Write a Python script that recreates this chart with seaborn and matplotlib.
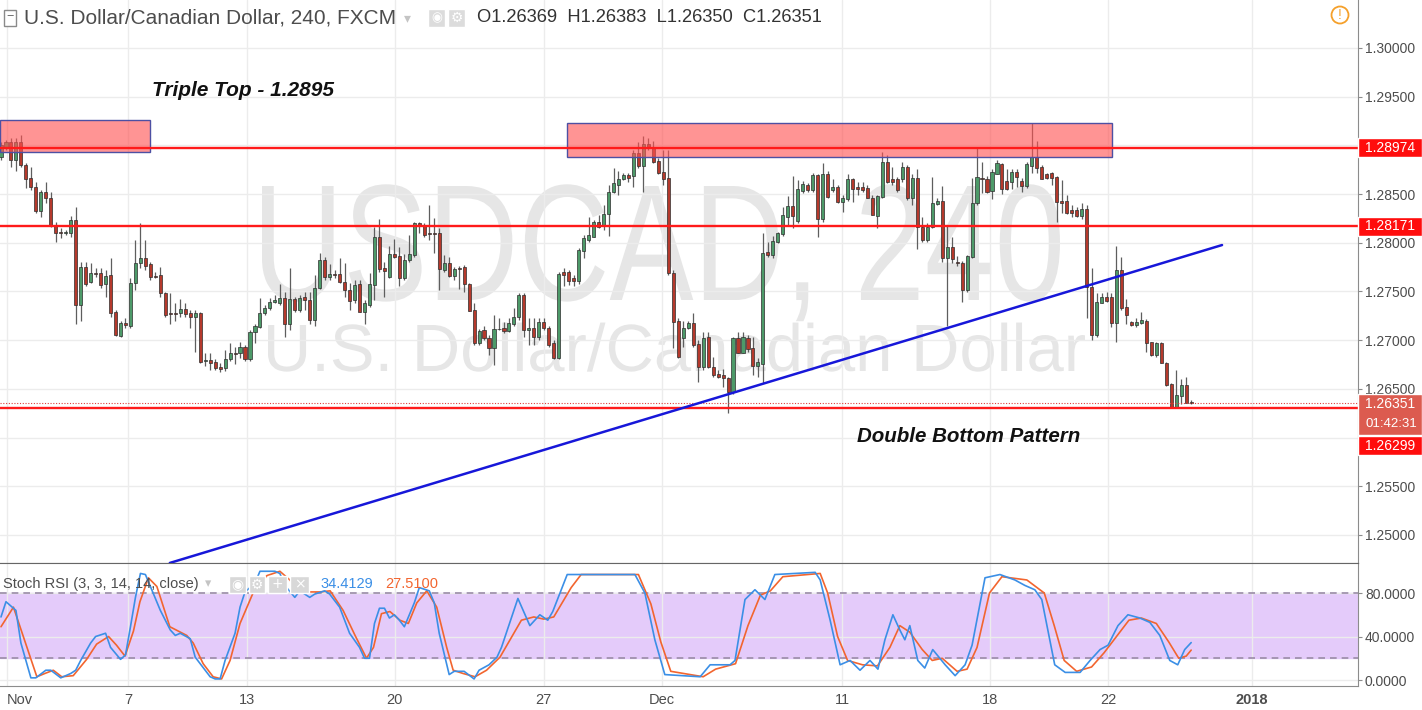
import numpy as np
import pandas as pd
import seaborn as sns
import matplotlib.pyplot as plt
from matplotlib.patches import Rectangle, Ellipse, PathPatch
from matplotlib.textpath import TextPath
from matplotlib.font_manager import FontProperties
from matplotlib.transforms import Affine2D, ScaledTranslation

# USDCAD 4h candles (1 Nov - 26 Dec 2017)
opens = [
    1.2888, 1.2898, 1.2903, 1.2885, 1.2903, 1.2880, 1.2867, 1.2857, 1.2833, 1.2852,
    1.2846, 1.2818, 1.2811, 1.2810, 1.2810, 1.2823, 1.2736, 1.2775, 1.2760, 1.2769,
    1.2769, 1.2758, 1.2767, 1.2729, 1.2704, 1.2718, 1.2715, 1.2759, 1.2779, 1.2784,
    1.2778, 1.2766, 1.2767, 1.2748, 1.2728, 1.2728, 1.2728, 1.2732, 1.2728, 1.2724,
    1.2728, 1.2679, 1.2680, 1.2678, 1.2672, 1.2671, 1.2681, 1.2687, 1.2687, 1.2693,
    1.2681, 1.2708, 1.2714, 1.2728, 1.2733, 1.2739, 1.2738, 1.2743, 1.2717, 1.2742,
    1.2731, 1.2744, 1.2741, 1.2721, 1.2754, 1.2782, 1.2765, 1.2768, 1.2768, 1.2760,
    1.2752, 1.2741, 1.2758, 1.2729, 1.2736, 1.2757, 1.2806, 1.2774, 1.2765, 1.2788,
    1.2786, 1.2764, 1.2782, 1.2787, 1.2820, 1.2817, 1.2810, 1.2810, 1.2810, 1.2772,
    1.2779, 1.2766, 1.2774, 1.2775, 1.2758, 1.2731, 1.2697, 1.2710, 1.2702, 1.2692,
    1.2712, 1.2713, 1.2709, 1.2717, 1.2724, 1.2746, 1.2710, 1.2713, 1.2703, 1.2719,
    1.2713, 1.2697, 1.2682, 1.2770, 1.2770, 1.2764, 1.2761, 1.2792, 1.2803, 1.2806,
    1.2821, 1.2818, 1.2830, 1.2852, 1.2859, 1.2866, 1.2870, 1.2869, 1.2892, 1.2879,
    1.2901, 1.2897, 1.2884, 1.2873, 1.2867, 1.2769, 1.2720, 1.2702, 1.2713, 1.2718,
    1.2696, 1.2672, 1.2703, 1.2672, 1.2665, 1.2664, 1.2661, 1.2647, 1.2702, 1.2687,
    1.2702, 1.2692, 1.2674, 1.2676, 1.2791, 1.2787, 1.2801, 1.2809, 1.2827, 1.2838,
    1.2822, 1.2853, 1.2859, 1.2854, 1.2870, 1.2824, 1.2871, 1.2854, 1.2857, 1.2842,
    1.2845, 1.2866, 1.2857, 1.2857, 1.2856, 1.2846, 1.2828, 1.2847, 1.2883, 1.2866,
    1.2866, 1.2865, 1.2878, 1.2846, 1.2867, 1.2816, 1.2803, 1.2816, 1.2840, 1.2843,
    1.2784, 1.2796, 1.2780, 1.2779, 1.2752, 1.2785, 1.2841, 1.2867, 1.2866, 1.2853,
    1.2871, 1.2881, 1.2863, 1.2862, 1.2873, 1.2863, 1.2858, 1.2879, 1.2888, 1.2878,
    1.2871, 1.2872, 1.2868, 1.2843, 1.2843, 1.2834, 1.2834, 1.2828, 1.2835, 1.2755,
    1.2705, 1.2738, 1.2744, 1.2744, 1.2718, 1.2772, 1.2734, 1.2719, 1.2716, 1.2718,
    1.2720, 1.2698, 1.2685, 1.2697, 1.2677, 1.2655, 1.2631, 1.2643, 1.2654, 1.26369,
]
highs = [
    1.2903, 1.2906, 1.2908, 1.2908, 1.2911, 1.2882, 1.2878, 1.2862, 1.2854, 1.2862,
    1.2852, 1.2821, 1.2815, 1.2813, 1.2828, 1.2837, 1.2780, 1.2780, 1.2779, 1.2774,
    1.2774, 1.2772, 1.2784, 1.2731, 1.2720, 1.2723, 1.2764, 1.2803, 1.2820, 1.2803,
    1.2780, 1.2770, 1.2775, 1.2749, 1.2748, 1.2738, 1.2742, 1.2738, 1.2731, 1.2731,
    1.2729, 1.2687, 1.2687, 1.2681, 1.2677, 1.2690, 1.2697, 1.2693, 1.2698, 1.2695,
    1.2710, 1.2717, 1.2743, 1.2736, 1.2743, 1.2746, 1.2758, 1.2749, 1.2774, 1.2744,
    1.2746, 1.2749, 1.2749, 1.2767, 1.2790, 1.2785, 1.2778, 1.2772, 1.2784, 1.2779,
    1.2759, 1.2762, 1.2762, 1.2741, 1.2769, 1.2816, 1.2824, 1.2780, 1.2797, 1.2804,
    1.2796, 1.2789, 1.2808, 1.2821, 1.2821, 1.2820, 1.2839, 1.2825, 1.2815, 1.2787,
    1.2785, 1.2775, 1.2776, 1.2777, 1.2759, 1.2738, 1.2712, 1.2715, 1.2705, 1.2726,
    1.2723, 1.2719, 1.2723, 1.2733, 1.2748, 1.2748, 1.2723, 1.2723, 1.2723, 1.2723,
    1.2715, 1.2700, 1.2770, 1.2774, 1.2772, 1.2767, 1.2795, 1.2808, 1.2826, 1.2823,
    1.2829, 1.2839, 1.2859, 1.2877, 1.2874, 1.2872, 1.2872, 1.2895, 1.2903, 1.2910,
    1.2908, 1.2905, 1.2887, 1.2895, 1.2895, 1.2772, 1.2723, 1.2720, 1.2720, 1.2728,
    1.2700, 1.2708, 1.2708, 1.2683, 1.2669, 1.2670, 1.2662, 1.2703, 1.2708, 1.2708,
    1.2705, 1.2703, 1.2682, 1.2810, 1.2801, 1.2807, 1.2811, 1.2837, 1.2848, 1.2869,
    1.2864, 1.2863, 1.2861, 1.2872, 1.2871, 1.2882, 1.2874, 1.2866, 1.2859, 1.2849,
    1.2871, 1.2867, 1.2862, 1.2862, 1.2859, 1.2849, 1.2849, 1.2893, 1.2890, 1.2878,
    1.2868, 1.2883, 1.2880, 1.2871, 1.2876, 1.2826, 1.2820, 1.2868, 1.2846, 1.2858,
    1.2817, 1.2806, 1.2786, 1.2781, 1.2787, 1.2867, 1.2898, 1.2883, 1.2869, 1.2876,
    1.2885, 1.2882, 1.2876, 1.2876, 1.2876, 1.2867, 1.2883, 1.2923, 1.2905, 1.2880,
    1.2872, 1.2873, 1.2869, 1.2864, 1.2849, 1.2839, 1.2837, 1.2841, 1.2839, 1.2774,
    1.2748, 1.2748, 1.2749, 1.2748, 1.2797, 1.2785, 1.2742, 1.2720, 1.2723, 1.2729,
    1.2722, 1.2698, 1.2698, 1.2698, 1.2678, 1.2656, 1.2669, 1.2660, 1.2662, 1.26383,
]
lows = [
    1.2885, 1.2895, 1.2878, 1.2874, 1.2878, 1.2856, 1.2854, 1.2831, 1.2826, 1.2841,
    1.2816, 1.2801, 1.2805, 1.2808, 1.2806, 1.2717, 1.2720, 1.2756, 1.2759, 1.2765,
    1.2754, 1.2744, 1.2724, 1.2704, 1.2703, 1.2713, 1.2713, 1.2752, 1.2774, 1.2772,
    1.2762, 1.2764, 1.2744, 1.2724, 1.2717, 1.2720, 1.2724, 1.2724, 1.2713, 1.2688,
    1.2677, 1.2674, 1.2669, 1.2669, 1.2667, 1.2668, 1.2679, 1.2676, 1.2682, 1.2679,
    1.2679, 1.2697, 1.2713, 1.2726, 1.2731, 1.2738, 1.2736, 1.2703, 1.2710, 1.2729,
    1.2729, 1.2731, 1.2717, 1.2715, 1.2753, 1.2762, 1.2762, 1.2764, 1.2759, 1.2744,
    1.2731, 1.2738, 1.2729, 1.2717, 1.2734, 1.2741, 1.2770, 1.2744, 1.2764, 1.2784,
    1.2756, 1.2762, 1.2780, 1.2785, 1.2810, 1.2806, 1.2803, 1.2790, 1.2752, 1.2770,
    1.2765, 1.2762, 1.2753, 1.2749, 1.2730, 1.2695, 1.2695, 1.2700, 1.2685, 1.2675,
    1.2710, 1.2707, 1.2708, 1.2715, 1.2721, 1.2703, 1.2695, 1.2695, 1.2700, 1.2710,
    1.2693, 1.2681, 1.2681, 1.2756, 1.2757, 1.2756, 1.2758, 1.2784, 1.2801, 1.2806,
    1.2815, 1.2813, 1.2807, 1.2851, 1.2849, 1.2864, 1.2862, 1.2857, 1.2877, 1.2852,
    1.2895, 1.2882, 1.2871, 1.2859, 1.2767, 1.2692, 1.2682, 1.2693, 1.2712, 1.2693,
    1.2657, 1.2669, 1.2671, 1.2662, 1.2661, 1.2652, 1.2625, 1.2645, 1.2687, 1.2687,
    1.2688, 1.2664, 1.2662, 1.2656, 1.2785, 1.2784, 1.2800, 1.2807, 1.2818, 1.2815,
    1.2820, 1.2851, 1.2852, 1.2852, 1.2806, 1.2821, 1.2846, 1.2852, 1.2841, 1.2832,
    1.2843, 1.2842, 1.2849, 1.2852, 1.2846, 1.2829, 1.2815, 1.2846, 1.2861, 1.2859,
    1.2852, 1.2862, 1.2844, 1.2839, 1.2794, 1.2801, 1.2801, 1.2815, 1.2839, 1.2780,
    1.2715, 1.2779, 1.2776, 1.2739, 1.2749, 1.2784, 1.2839, 1.2851, 1.2851, 1.2845,
    1.2871, 1.2850, 1.2854, 1.2855, 1.2857, 1.2852, 1.2856, 1.2872, 1.2872, 1.2865,
    1.2866, 1.2859, 1.2821, 1.2831, 1.2830, 1.2826, 1.2827, 1.2824, 1.2723, 1.2700,
    1.2703, 1.2738, 1.2739, 1.2714, 1.2698, 1.2731, 1.2717, 1.2715, 1.2714, 1.2717,
    1.2688, 1.2684, 1.2683, 1.2677, 1.2653, 1.2631, 1.2630, 1.2635, 1.2636, 1.26350,
]
closes = [
    1.2900, 1.2903, 1.2885, 1.2903, 1.2880, 1.2866, 1.2857, 1.2833, 1.2852, 1.2846,
    1.2818, 1.2810, 1.2810, 1.2811, 1.2823, 1.2736, 1.2775, 1.2758, 1.2769, 1.2768,
    1.2757, 1.2766, 1.2728, 1.2705, 1.2718, 1.2716, 1.2759, 1.2779, 1.2784, 1.2776,
    1.2765, 1.2765, 1.2748, 1.2726, 1.2727, 1.2727, 1.2732, 1.2727, 1.2724, 1.2728,
    1.2678, 1.2680, 1.2677, 1.2671, 1.2670, 1.2681, 1.2687, 1.2686, 1.2693, 1.2681,
    1.2708, 1.2715, 1.2728, 1.2733, 1.2739, 1.2741, 1.2743, 1.2717, 1.2742, 1.2731,
    1.2743, 1.2741, 1.2721, 1.2754, 1.2782, 1.2765, 1.2768, 1.2767, 1.2760, 1.2752,
    1.2740, 1.2757, 1.2729, 1.2738, 1.2758, 1.2806, 1.2773, 1.2771, 1.2788, 1.2785,
    1.2764, 1.2782, 1.2788, 1.2820, 1.2817, 1.2808, 1.2809, 1.2809, 1.2773, 1.2779,
    1.2766, 1.2773, 1.2773, 1.2758, 1.2730, 1.2697, 1.2709, 1.2702, 1.2692, 1.2712,
    1.2711, 1.2709, 1.2718, 1.2724, 1.2746, 1.2710, 1.2713, 1.2703, 1.2719, 1.2713,
    1.2695, 1.2682, 1.2768, 1.2767, 1.2761, 1.2761, 1.2793, 1.2805, 1.2808, 1.2821,
    1.2816, 1.2830, 1.2852, 1.2861, 1.2866, 1.2870, 1.2867, 1.2892, 1.2879, 1.2901,
    1.2898, 1.2883, 1.2872, 1.2866, 1.2769, 1.2719, 1.2683, 1.2713, 1.2718, 1.2695,
    1.2672, 1.2702, 1.2672, 1.2664, 1.2662, 1.2661, 1.2647, 1.2702, 1.2687, 1.2703,
    1.2691, 1.2674, 1.2678, 1.2790, 1.2787, 1.2802, 1.2810, 1.2829, 1.2838, 1.2828,
    1.2855, 1.2860, 1.2854, 1.2870, 1.2824, 1.2871, 1.2847, 1.2857, 1.2842, 1.2846,
    1.2866, 1.2855, 1.2855, 1.2854, 1.2846, 1.2829, 1.2848, 1.2883, 1.2862, 1.2862,
    1.2854, 1.2878, 1.2846, 1.2867, 1.2816, 1.2803, 1.2816, 1.2841, 1.2843, 1.2784,
    1.2796, 1.2783, 1.2779, 1.2752, 1.2786, 1.2841, 1.2868, 1.2865, 1.2852, 1.2873,
    1.2882, 1.2855, 1.2855, 1.2873, 1.2868, 1.2858, 1.2881, 1.2888, 1.2877, 1.2866,
    1.2867, 1.2867, 1.2842, 1.2841, 1.2831, 1.2831, 1.2828, 1.2835, 1.2755, 1.2705,
    1.2739, 1.2744, 1.2740, 1.2718, 1.2772, 1.2733, 1.2726, 1.2716, 1.2719, 1.2721,
    1.2697, 1.2685, 1.2697, 1.2677, 1.2654, 1.2631, 1.2644, 1.2654, 1.2636, 1.26351,
]

# Stoch RSI %K (blue) and %D (orange), sampled at candle positions
k_x = [0, 1, 3, 4, 6, 7, 9, 10, 12, 14, 15, 16, 18, 19, 21, 22, 24, 25, 26, 27, 28, 29, 30,
       32, 34, 35, 36, 38, 39, 41, 42, 43, 44, 45, 47, 48, 49, 51, 52, 53, 55, 56, 57, 59, 60,
       62, 63, 65, 66, 68, 70, 72, 73, 74, 75, 76, 77, 78, 79, 80, 81, 83, 84, 86, 87, 88, 90,
       91, 93, 95, 96, 98, 99.6, 100.5, 103.8, 106.2, 108.2, 109.8, 110.8, 113.7, 120.3, 127.3,
       129.3, 131.3, 133.3, 140.4, 142.4, 146.4, 147.4, 149.4, 151.4, 153.4, 155.4, 163.5,
       164.5, 166.5, 168.5, 170.5, 172.5, 174.5, 176.1, 177.5, 179.1, 180.5, 181.5, 182.5,
       184.1, 185.5, 187.1, 189.6, 191.6, 193.6, 195, 197.6, 200.6, 203.6, 205.6, 207.6, 209,
       210.6, 211.6, 213.7, 216.7, 218.7, 220.7, 222.3, 224.3, 226.3, 228.7, 230.7, 232.7,
       234.7, 236.3, 237.7, 239]
k_y = [58, 72, 64, 34, 2, 2, 9, 9, 2, 6, 9, 18, 34, 40, 43, 30, 19, 23, 49, 76, 98, 97, 86,
       64, 46, 41, 43, 38, 21, 9, 3, 1, 1, 18, 43, 67, 81, 89, 100, 100, 100, 98, 87, 76, 82,
       76, 79, 82, 79, 67, 43, 30, 20, 20, 52, 66, 66, 57, 60, 55, 49, 71, 85, 82, 71, 43, 5,
       8, 8, 1, 9, 14, 21, 30, 75, 50, 60, 55, 63, 97, 97, 97,
       80, 37, 5, 3, 14, 14, 18, 74, 83, 74, 97, 99,
       92, 55, 14, 18, 9, 18, 10, 37, 60, 46, 37, 50,
       18, 11, 28, 14, 4, 14, 32, 94, 97, 92, 87, 83, 74,
       37, 14, 7, 7, 18, 28, 32, 50, 60, 57, 53, 41,
       18, 14, 28, 34.4129]
d_x = [0, 2.5, 7.2, 8.8, 10.5, 12.2, 14.5, 17.2, 19.2, 21.6, 23.2, 24.9, 26.6, 27.9, 29.6,
       31.3, 33.9, 37.3, 38.6, 40.6, 42.6, 44.3, 46, 48, 50.7, 53.4, 56, 58, 60, 62, 64.1,
       66.1, 68.7, 71.1, 73.4, 74.8, 76.4, 78.1, 80.1, 81.8, 83.5, 85.5, 87.5, 89.5, 90.8,
       92.8, 95.2, 97.5, 100.2, 104.5, 107, 109, 111, 114.5, 116.5, 128, 130.5, 132.5, 134.5,
       141, 143.5, 147.5, 150, 152.5, 154.5, 157, 164.5, 166, 168, 170, 173, 176, 178.5,
       180.5, 182.5, 185, 187, 189, 192, 194, 196, 198.5, 201, 206, 209.5, 211.5, 213.5, 216,
       219, 221.5, 224, 226.5, 229, 232, 234.5, 236.5, 238, 239]
d_y = [49, 67, 3, 6, 9, 3, 4, 19, 33, 40, 32, 22, 45, 72, 94,
       86, 49, 41, 34, 15, 3, 1, 18, 52, 81, 96, 100, 92, 81, 81, 81,
       82, 64, 41, 20, 30, 61, 63, 55, 52, 71, 82, 67, 30, 9,
       6, 3, 9, 21, 55, 58, 56, 58, 85, 97, 97, 70, 35, 8,
       3, 10, 15, 50, 78, 82, 95, 98, 80, 40, 18, 14, 13, 30,
       50, 44, 28, 18, 20, 8, 10, 30, 80, 95, 92, 80, 50, 18, 8,
       12, 25, 40, 55, 57, 52, 35, 20, 22, 27.51]

tick_pos = [1.2, 25.5, 49.4, 79.1, 109.0, 132.7, 168.9, 198.6, 222.3, 251.2]
tick_labels = ['Nov', '7', '13', '20', '27', 'Dec', '11', '18', '22', '2018']
price_ticks = [1.250, 1.255, 1.260, 1.265, 1.270, 1.275, 1.280, 1.285, 1.290, 1.295, 1.300]
stoch_ticks = [0, 40, 80]

triple_top = 1.28974
resistance = 1.28171
double_bottom = 1.26299
last_price = 1.26351
trend_x = [33.9, 245.2]
trend_y = [1.24713, 1.27977]
zone_left = [-0.2, 29.9, 1.28932, 1.29261]
zone_top = [113.7, 223.1, 1.28881, 1.29230]

sns.set_style('white')
plt.rcParams['font.family'] = ['Liberation Sans', 'DejaVu Sans']

W, H = 1422, 710
def fx(px):
    return px / W
def fy(py):
    return 1 - py / H

df = pd.DataFrame({'open': opens, 'high': highs, 'low': lows, 'close': closes})
df['i'] = np.arange(len(df))
df['up'] = df['close'] >= df['open']

fig = plt.figure(figsize=(W / 100, H / 100), dpi=100)
ax = fig.add_axes([0, fy(563), fx(1358), 563 / H])
ax2 = fig.add_axes([0, fy(686), fx(1358), 123 / H])

grid_c = '#ececec'
axis_c = '#8c8c8c'
lab_c = '#4d4d4d'

# ---- main price panel
ax.set_xlim(-0.2, 272.5)
ax.set_ylim(1.247125, 1.304928)
ax.yaxis.tick_right()
ax.set_yticks(price_ticks)
# 1.26000 sits under the 1.26299 label box
ax.set_yticklabels(['' if abs(p - 1.26) < 1e-9 else f'{p:.5f}' for p in price_ticks])
ax.set_xticks(tick_pos)
ax.tick_params(axis='x', length=0, labelbottom=False)
ax.tick_params(axis='y', length=3, color=axis_c, labelcolor=lab_c, labelsize=10, pad=2)
ax.grid(True, color=grid_c, lw=1, zorder=0)
for s in ['top', 'left']:
    ax.spines[s].set_visible(False)
ax.spines['right'].set_color(axis_c)
ax.spines['bottom'].set_color('#666666')


def watermark(s, x0, x1, top, base):
    prop = FontProperties(family='Liberation Sans')
    tp = TextPath((0, 0), s, size=100, prop=prop)
    bb = tp.get_extents()
    cap = TextPath((0, 0), 'D', size=100, prop=prop).get_extents().height
    sx = (x1 - x0) / bb.width
    sy = (base - top) / cap
    tr = Affine2D().translate(-bb.x0, 0).scale(sx / W, sy / H).translate(fx(x0), fy(base)) \
        + fig.transFigure
    ax.add_artist(PathPatch(tp, transform=tr, facecolor='#e6e6e6', edgecolor='none', zorder=0.5))


watermark('USDCAD, 240', 262, 1060, 186, 300)
watermark('U.S. Dollar/Canadian Dollar', 268, 1085, 325, 371)

# candles
ax.vlines(df['i'], df['low'], df['high'], color='#5e5e5e', lw=0.9, zorder=2)
body_lo = np.minimum(df['open'], df['close'])
body_h = np.maximum((df['close'] - df['open']).abs(), 0.00004)
ax.bar(df['i'], body_h, bottom=body_lo, width=0.62,
       color=np.where(df['up'], '#4d9a69', '#b5392c'), edgecolor='#2e2e2e', linewidth=0.5, zorder=3)

for z in [zone_left, zone_top]:
    ax.add_patch(Rectangle((z[0], z[2]), z[1] - z[0], z[3] - z[2], facecolor=(1, 0.32, 0.32, 0.62),
                           edgecolor='#4d50a3', lw=1, zorder=4))

for lvl in [triple_top, resistance, double_bottom]:
    ax.axhline(lvl, color='#ff1a1a', lw=1.7, zorder=5)
ax.axhline(last_price, color='#e03c3c', lw=0.8, ls=(0, (1, 1.5)), zorder=5)
ax.plot(trend_x, trend_y, color='#1717d9', lw=1.8, zorder=5)

ax.text(fx(152), fy(90), 'Triple Top - 1.2895', transform=fig.transFigure, fontsize=15,
        fontweight='bold', style='italic', color='#111111', va='center', zorder=6)
ax.text(fx(857), fy(437), 'Double Bottom Pattern', transform=fig.transFigure, fontsize=14.8,
        fontweight='bold', style='italic', color='#111111', va='center', zorder=6)

# ---- stoch RSI panel
ax2.set_xlim(-0.2, 272.5)
ax2.set_ylim(-5.5, 107.6)
ax2.axhspan(20, 80, color='#e4cbfa', zorder=0)
for lvl in [20, 80]:
    ax2.axhline(lvl, color='#9a8ca6', lw=1.2, ls=(0, (4, 3)), zorder=1)
ax2.grid(True, color=grid_c, lw=1, zorder=0.5)
sns.lineplot(x=k_x, y=k_y, color='#3b8fe6', lw=1.2, estimator=None, ax=ax2, zorder=3)
sns.lineplot(x=d_x, y=d_y, color='#f2652f', lw=1.2, estimator=None, ax=ax2, zorder=2)
ax2.yaxis.tick_right()
ax2.set_yticks(stoch_ticks)
ax2.set_yticklabels([f'{v:.4f}' for v in stoch_ticks])
ax2.set_xticks(tick_pos)
ax2.set_xticklabels(tick_labels)
for t in ax2.get_xticklabels():
    if t.get_text() == '2018':
        t.set_fontweight('bold')
    if t.get_text() == 'Nov':
        # keep the first label inside the canvas
        t.set_ha('left')
        t.set_transform(t.get_transform() + ScaledTranslation(-5 / 100, 0, fig.dpi_scale_trans))
ax2.tick_params(axis='y', length=3, color=axis_c, labelcolor=lab_c, labelsize=10, pad=2)
ax2.tick_params(axis='x', length=3, color=axis_c, labelcolor=lab_c, labelsize=10.5, pad=2)
ax2.set_xlabel('')
ax2.set_ylabel('')
ax2.spines['left'].set_visible(False)
ax2.spines['top'].set_color('#666666')
ax2.spines['right'].set_color(axis_c)
ax2.spines['bottom'].set_color(axis_c)


def px_rect(x0, y0, w, h, color, **kw):
    fig.patches.append(Rectangle((fx(x0), fy(y0 + h)), w / W, h / H, transform=fig.transFigure,
                                 facecolor=color, zorder=6, **kw))


# right-side price labels
for y0, txt, col in [(138, '1.28974', '#ff0d0d'), (217, '1.28171', '#ff0d0d'),
                     (436, '1.26299', '#ff0d0d')]:
    px_rect(1358, y0, 64, 19, col)
    fig.text(fx(1365), fy(y0 + 9.5), txt, color='white', fontsize=10, va='center', zorder=7)
px_rect(1358, 394, 64, 41, '#dc5b4f')
fig.text(fx(1365), fy(403.5), '1.26351', color='white', fontsize=10, va='center', zorder=7)
fig.text(fx(1365), fy(424), '01:42:31', color='white', fontsize=9.5, va='center', zorder=7)

# header
px_rect(4, 10, 12, 16, 'white', edgecolor='#8a8a8a', lw=1)
fig.text(fx(6), fy(17.5), '−', color='#6a6a6a', fontsize=9, va='center', zorder=7)
fig.text(fx(24), fy(18), 'U.S. Dollar/Canadian Dollar, 240, FXCM', color=lab_c, fontsize=15,
         va='center', zorder=7)
fig.text(fx(404), fy(18), '▾', color='#c4c4c4', fontsize=10, va='center', family='DejaVu Sans', zorder=7)
for x0 in [428, 448]:
    px_rect(x0, 9, 17, 18, '#dcdcdc')
fig.text(fx(436.5), fy(18), '◉', color='white', fontsize=9, ha='center', va='center',
         family='DejaVu Sans', zorder=7)
fig.text(fx(456.5), fy(18), '⚙', color='white', fontsize=10, ha='center', va='center',
         family='DejaVu Sans', zorder=7)
fig.text(fx(477), fy(18), 'O1.26369  H1.26383  L1.26350  C1.26351', color='#333333', fontsize=13.2,
         va='center', zorder=7)
fig.patches.append(Ellipse((fx(1340), fy(15)), 17 / W, 17 / H, transform=fig.transFigure,
                           facecolor='white', edgecolor='#f5a02a', lw=1.3, zorder=6))
fig.text(fx(1340), fy(15), '!', color='#f5a02a', fontsize=10, ha='center', va='center', zorder=7)

# stoch header
fig.text(fx(3), fy(584), 'Stoch RSI (3, 3, 14, 14, close)', color=lab_c, fontsize=10.5,
         va='center', zorder=7)
fig.text(fx(205), fy(584), '▾', color='#c4c4c4', fontsize=9, va='center', family='DejaVu Sans', zorder=7)
for x0, w, g in [(229, 17, '◉'), (249, 16, '⚙'), (268, 19, '+'), (290, 19, '×')]:
    px_rect(x0, 576, w, 17, '#d8d8d8')
    fig.text(fx(x0 + w / 2), fy(584.5), g, color='white', fontsize=10, ha='center', va='center',
             family='DejaVu Sans', zorder=7)
fig.text(fx(320), fy(584), '34.4129', color='#3b8fe6', fontsize=10.5, va='center', zorder=7)
fig.text(fx(385), fy(584), '27.5100', color='#f2652f', fontsize=10.5, va='center', zorder=7)

fig.savefig('out.png', dpi=100)
